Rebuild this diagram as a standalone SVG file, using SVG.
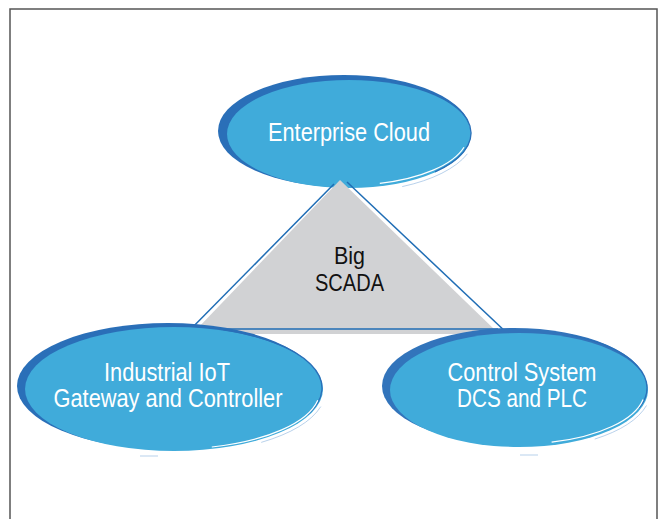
<svg xmlns="http://www.w3.org/2000/svg" width="662" height="519" viewBox="0 0 662 519">
  <style>
    .rim { fill: #2a6fb8; }
    .fill { fill: #40abda; }
    .thin { fill: none; stroke: #2a6fb8; stroke-width: 1.3; }
    .hl { fill: none; stroke: #ffffff; stroke-width: 1.2; }
    .streak { fill: none; stroke: #8fb6e0; stroke-width: 0.8; opacity: 0.8; }
    .wt { font-family: "Liberation Sans", Arial, sans-serif; font-size: 25px; fill: #ffffff; text-anchor: middle; }
    .bt { font-family: "Liberation Sans", Arial, sans-serif; font-size: 23px; fill: #111111; text-anchor: middle; }
    .edge { fill: none; stroke: #1f6db5; stroke-width: 1.5; }
  </style>
  <rect x="0" y="0" width="662" height="519" fill="#ffffff"/>
  <rect x="10" y="9" width="647" height="520" fill="none" stroke="#555555" stroke-width="1.5"/>

  <g id="node-cloud">
    <ellipse class="rim" cx="344" cy="131" rx="126" ry="56"/>
    <ellipse class="fill" cx="349" cy="134" rx="122" ry="54"/>
    <path class="thin" d="M 409.5 85.4 A 123 55 0 0 1 435 171.9"/>
    <path class="hl" d="M 464 147.2 A 119 51 0 0 1 379.8 183.3"/>
    <path class="streak" d="M 467.4 153.8 A 126 58 0 0 1 402.2 186.6"/>
    <text class="wt" x="349" y="141" textLength="162" lengthAdjust="spacingAndGlyphs">Enterprise Cloud</text>
  </g>

  <g id="node-scada">
    <polygon points="340,180 196,330 495,330" fill="#d1d2d4"/>
    <rect x="200" y="330" width="300" height="4" fill="#d1d2d4"/>
    <text class="bt" x="349.5" y="264" textLength="31" lengthAdjust="spacingAndGlyphs">Big</text>
    <text class="bt" x="349.5" y="291" textLength="69" lengthAdjust="spacingAndGlyphs">SCADA</text>
  </g>

  <g id="connectors">
    <line class="edge" x1="334" y1="184" x2="183" y2="337"/>
    <line class="edge" x1="347" y1="182" x2="508" y2="334"/>
    <line class="edge" x1="198" y1="329" x2="498" y2="329"/>
  </g>

  <g id="node-iot">
    <ellipse class="rim" cx="168" cy="386" rx="151" ry="63"/>
    <ellipse class="fill" cx="174" cy="389" rx="149" ry="62"/>
    <path class="thin" d="M 223.3 329.7 A 150 62 0 0 1 307.9 414.2"/>
    <path class="hl" d="M 317.8 400.2 A 146 59 0 0 1 211.8 447"/>
    <path class="streak" d="M 320.8 406.6 A 152 64 0 0 1 261.2 442.4"/>
    <line class="streak" x1="140" y1="456" x2="158" y2="456"/>
    <text class="wt" x="167" y="381" textLength="126" lengthAdjust="spacingAndGlyphs">Industrial IoT</text>
    <text class="wt" x="168" y="407" textLength="229" lengthAdjust="spacingAndGlyphs">Gateway and Controller</text>
  </g>

  <g id="node-control">
    <ellipse class="rim" cx="514" cy="386" rx="132" ry="58" style="fill:#3274bb"/>
    <ellipse class="fill" cx="519" cy="390" rx="129" ry="57"/>
    <path class="thin" d="M 571.9 335.4 A 130 58 0 0 1 639.2 407.8"/>
    <path class="hl" d="M 643.1 399.4 A 126 54 0 0 1 551.6 442.2"/>
    <path class="streak" d="M 646.5 405.5 A 132 60 0 0 1 594.7 439.1"/>
    <line class="streak" x1="520" y1="455" x2="538" y2="455"/>
    <text class="wt" x="522" y="381" textLength="149" lengthAdjust="spacingAndGlyphs">Control System</text>
    <text class="wt" x="522" y="407" textLength="130" lengthAdjust="spacingAndGlyphs">DCS and PLC</text>
  </g>
</svg>
